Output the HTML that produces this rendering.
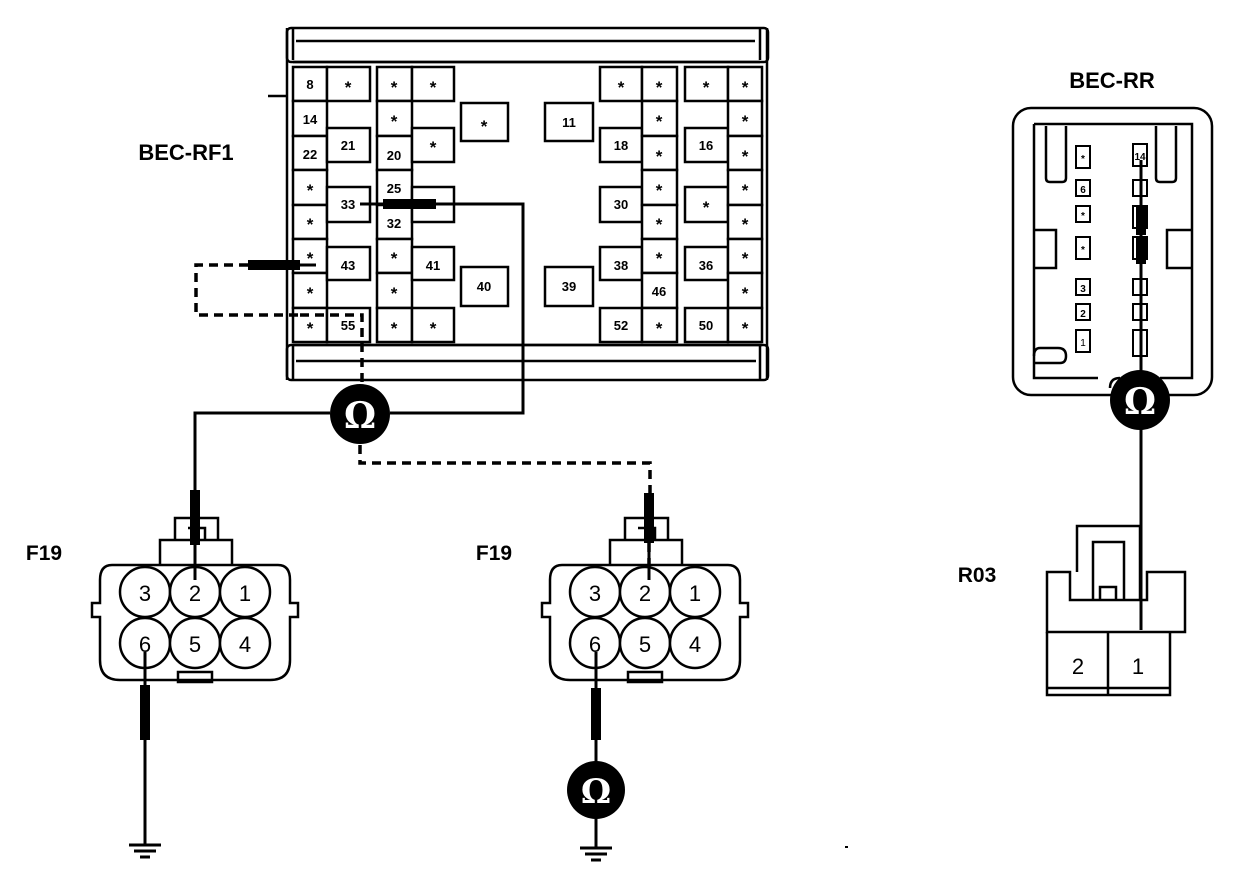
<!DOCTYPE html>
<html><head><meta charset="utf-8"><style>
html,body{margin:0;padding:0;background:#fff;}
svg{display:block}
text{font-family:"Liberation Sans",sans-serif;font-weight:bold;fill:#000;text-anchor:middle;}
.c{fill:#fff;stroke:#000;stroke-width:2.5}
.s{font-size:17px}
.n{font-size:13px}
.w{fill:none;stroke:#000;stroke-width:3}
.d{fill:none;stroke:#000;stroke-width:3.5;stroke-dasharray:9,6}
.l{fill:none;stroke:#000;stroke-width:2.5}
.o{fill:#fff;font-family:"DejaVu Serif","Liberation Serif",serif;font-weight:bold}
</style></head><body>
<svg width="1248" height="884" viewBox="0 0 1248 884" xmlns="http://www.w3.org/2000/svg">
<!-- frame -->
<path class="l" d="M287 28 V380 M293 28 V60 M293 62 H760 M296 41 H755 M760 28 V60 M767 28 V380 M293 345 H762 M296 361 H756 M293 345 V380 M760 345 V380 M268 96 H287"/>
<rect x="287" y="28" width="481" height="34" rx="4" class="l"/>
<rect x="287" y="345" width="481" height="35" rx="4" class="l"/>

<!-- col A full -->
<rect class="c" x="293" y="67" width="34" height="34"/><text class="n" x="310" y="89">8</text>
<rect class="c" x="293" y="101" width="34" height="35"/><text class="n" x="310" y="124">14</text>
<rect class="c" x="293" y="136" width="34" height="34"/><text class="n" x="310" y="159">22</text>
<rect class="c" x="293" y="170" width="34" height="35"/><text class="s" x="310" y="196">*</text>
<rect class="c" x="293" y="205" width="34" height="34"/><text class="s" x="310" y="230">*</text>
<rect class="c" x="293" y="239" width="34" height="34"/><text class="s" x="310" y="264">*</text>
<rect class="c" x="293" y="273" width="34" height="35"/><text class="s" x="310" y="299">*</text>
<rect class="c" x="293" y="308" width="34" height="34"/><text class="s" x="310" y="334">*</text>
<!-- col B -->
<rect class="c" x="327" y="67" width="43" height="34"/><text class="s" x="348" y="93">*</text>
<rect class="c" x="327" y="128" width="43" height="34"/><text class="n" x="348" y="150">21</text>
<rect class="c" x="327" y="187" width="43" height="35"/><text class="n" x="348" y="209">33</text>
<rect class="c" x="327" y="247" width="43" height="33"/><text class="n" x="348" y="270">43</text>
<rect class="c" x="327" y="308" width="43" height="34"/><text class="n" x="348" y="330">55</text>
<!-- col C full -->
<rect class="c" x="377" y="67" width="35" height="34"/><text class="s" x="394" y="93">*</text>
<rect class="c" x="377" y="101" width="35" height="35"/><text class="s" x="394" y="127">*</text>
<rect class="c" x="377" y="136" width="35" height="34"/><text class="n" x="394" y="160">20</text>
<rect class="c" x="377" y="170" width="35" height="35"/><text class="n" x="394" y="193">25</text>
<rect class="c" x="377" y="205" width="35" height="34"/><text class="n" x="394" y="228">32</text>
<rect class="c" x="377" y="239" width="35" height="34"/><text class="s" x="394" y="264">*</text>
<rect class="c" x="377" y="273" width="35" height="35"/><text class="s" x="394" y="299">*</text>
<rect class="c" x="377" y="308" width="35" height="34"/><text class="s" x="394" y="334">*</text>
<!-- col D -->
<rect class="c" x="412" y="67" width="42" height="34"/><text class="s" x="433" y="93">*</text>
<rect class="c" x="412" y="128" width="42" height="34"/><text class="s" x="433" y="153">*</text>
<rect class="c" x="412" y="187" width="42" height="35"/>
<rect class="c" x="412" y="247" width="42" height="33"/><text class="n" x="433" y="270">41</text>
<rect class="c" x="412" y="308" width="42" height="34"/><text class="s" x="433" y="334">*</text>
<!-- center -->
<rect class="c" x="461" y="103" width="47" height="38"/><text class="s" x="484" y="132">*</text>
<rect class="c" x="545" y="103" width="48" height="38"/><text class="n" x="569" y="127">11</text>
<rect class="c" x="461" y="267" width="47" height="39"/><text class="n" x="484" y="291">40</text>
<rect class="c" x="545" y="267" width="48" height="39"/><text class="n" x="569" y="291">39</text>
<!-- col E -->
<rect class="c" x="600" y="67" width="42" height="34"/><text class="s" x="621" y="93">*</text>
<rect class="c" x="600" y="128" width="42" height="34"/><text class="n" x="621" y="150">18</text>
<rect class="c" x="600" y="187" width="42" height="35"/><text class="n" x="621" y="209">30</text>
<rect class="c" x="600" y="247" width="42" height="33"/><text class="n" x="621" y="270">38</text>
<rect class="c" x="600" y="308" width="42" height="34"/><text class="n" x="621" y="330">52</text>
<!-- col F full -->
<rect class="c" x="642" y="67" width="35" height="34"/><text class="s" x="659" y="93">*</text>
<rect class="c" x="642" y="101" width="35" height="35"/><text class="s" x="659" y="127">*</text>
<rect class="c" x="642" y="136" width="35" height="34"/><text class="s" x="659" y="162">*</text>
<rect class="c" x="642" y="170" width="35" height="35"/><text class="s" x="659" y="196">*</text>
<rect class="c" x="642" y="205" width="35" height="34"/><text class="s" x="659" y="230">*</text>
<rect class="c" x="642" y="239" width="35" height="34"/><text class="s" x="659" y="264">*</text>
<rect class="c" x="642" y="273" width="35" height="35"/><text class="n" x="659" y="296">46</text>
<rect class="c" x="642" y="308" width="35" height="34"/><text class="s" x="659" y="334">*</text>
<!-- col G -->
<rect class="c" x="685" y="67" width="43" height="34"/><text class="s" x="706" y="93">*</text>
<rect class="c" x="685" y="128" width="43" height="34"/><text class="n" x="706" y="150">16</text>
<rect class="c" x="685" y="187" width="43" height="35"/><text class="s" x="706" y="213">*</text>
<rect class="c" x="685" y="247" width="43" height="33"/><text class="n" x="706" y="270">36</text>
<rect class="c" x="685" y="308" width="43" height="34"/><text class="n" x="706" y="330">50</text>
<!-- col H full -->
<rect class="c" x="728" y="67" width="34" height="34"/><text class="s" x="745" y="93">*</text>
<rect class="c" x="728" y="101" width="34" height="35"/><text class="s" x="745" y="127">*</text>
<rect class="c" x="728" y="136" width="34" height="34"/><text class="s" x="745" y="162">*</text>
<rect class="c" x="728" y="170" width="34" height="35"/><text class="s" x="745" y="196">*</text>
<rect class="c" x="728" y="205" width="34" height="34"/><text class="s" x="745" y="230">*</text>
<rect class="c" x="728" y="239" width="34" height="34"/><text class="s" x="745" y="264">*</text>
<rect class="c" x="728" y="273" width="34" height="35"/><text class="s" x="745" y="299">*</text>
<rect class="c" x="728" y="308" width="34" height="34"/><text class="s" x="745" y="334">*</text>

<text x="186" y="160" style="font-size:22px">BEC-RF1</text>
<text x="1112" y="88" style="font-size:22px">BEC-RR</text>
<text x="44" y="560" style="font-size:21px">F19</text>
<text x="494" y="560" style="font-size:21px">F19</text>
<text x="977" y="582" style="font-size:21px">R03</text>

<!-- solid wires -->
<path class="w" d="M360 204 H523 V413 H390 M330 413 H195 V545"/>
<rect x="383" y="199" width="53" height="10" fill="#000"/>
<rect x="190" y="490" width="10" height="55" fill="#000"/>
<path class="w" d="M195 545 V590"/>
<!-- dashed -->
<path class="d" d="M248 265 H196 V315 H300 M300 315 H362 V385"/>
<rect x="248" y="260" width="52" height="10" fill="#000"/>
<path class="w" d="M300 265 H316"/>
<path class="d" d="M360 445 V463 H650 V495"/>
<rect x="644" y="493" width="10" height="50" fill="#000"/>
<path class="d" d="M649 543 V590"/>

<!-- ohm 1 -->
<circle cx="360" cy="414" r="30" fill="#000"/>
<text class="o" x="360" y="428" style="font-size:36px">Ω</text>

<!-- F19 left -->
<g id="f19">
<path class="l" d="M160 565 V540 H232 V565 M175 540 V518 H218 V540 M188 528 H205 V540"/>
<path class="l" d="M112 565 H278 Q290 565 290 580 V603 H298 V617 H290 V660 Q290 680 270 680 H120 Q100 680 100 660 V617 H92 V603 H100 V580 Q100 565 112 565 Z"/>
<path class="l" d="M178 672 H212 V682 H178 Z"/>
<circle class="c" cx="145" cy="592" r="25"/><circle class="c" cx="195" cy="592" r="25"/><circle class="c" cx="245" cy="592" r="25"/>
<circle class="c" cx="145" cy="643" r="25"/><circle class="c" cx="195" cy="643" r="25"/><circle class="c" cx="245" cy="643" r="25"/>
<text x="145" y="601" style="font-size:22px;font-weight:normal">3</text>
<text x="195" y="601" style="font-size:22px;font-weight:normal">2</text>
<text x="245" y="601" style="font-size:22px;font-weight:normal">1</text>
<text x="145" y="652" style="font-size:22px;font-weight:normal">6</text>
<text x="195" y="652" style="font-size:22px;font-weight:normal">5</text>
<text x="245" y="652" style="font-size:22px;font-weight:normal">4</text>
</g>
<use href="#f19" x="450"/>
<path class="w" d="M195 545 V580"/>
<path class="w" d="M649 543 V580"/>

<!-- grounds -->
<path class="w" d="M145 652 V845"/>
<rect x="140" y="685" width="10" height="55" fill="#000"/>
<path class="w" d="M129 845 H161 M134 851 H156 M140 857 H150"/>
<path class="w" d="M596 652 V848"/>
<rect x="591" y="688" width="10" height="52" fill="#000"/>
<circle cx="596" cy="790" r="29" fill="#000"/>
<text class="o" x="596" y="803" style="font-size:34px">Ω</text>
<path class="w" d="M580 848 H612 M585 854 H607 M591 860 H601"/>

<!-- BEC-RR -->
<rect x="1013" y="108" width="199" height="287" rx="18" class="l"/>
<path class="l" d="M1034 124 H1192 V378 H1160 M1120 378 Q1110 378 1110 388 M1034 124 V378 H1098"/>
<path class="l" d="M1046 126 V178 Q1046 182 1050 182 H1062 Q1066 182 1066 178 V126 M1156 126 V178 Q1156 182 1160 182 H1172 Q1176 182 1176 178 V126"/>
<path class="l" d="M1034 230 H1056 V268 H1034 M1192 230 H1167 V268 H1192 M1034 363 H1060 Q1066 363 1066 356 Q1066 348 1058 348 H1040 Q1034 348 1034 356"/>
<g style="fill:#fff;stroke:#000;stroke-width:2">
<rect x="1076" y="146" width="14" height="22"/><rect x="1076" y="180" width="14" height="16"/>
<rect x="1076" y="206" width="14" height="16"/><rect x="1076" y="237" width="14" height="22"/>
<rect x="1076" y="279" width="14" height="16"/><rect x="1076" y="304" width="14" height="16"/>
<rect x="1076" y="330" width="14" height="22"/>
<rect x="1133" y="144" width="14" height="22"/><rect x="1133" y="180" width="14" height="16"/>
<rect x="1133" y="206" width="14" height="22"/><rect x="1133" y="237" width="14" height="22"/>
<rect x="1133" y="279" width="14" height="16"/><rect x="1133" y="304" width="14" height="16"/>
<rect x="1133" y="330" width="14" height="26"/>
</g>
<text x="1083" y="162" style="font-size:10px">*</text><text x="1083" y="193" style="font-size:10px">6</text>
<text x="1083" y="219" style="font-size:10px">*</text><text x="1083" y="253" style="font-size:10px">*</text>
<text x="1083" y="292" style="font-size:10px">3</text><text x="1083" y="317" style="font-size:10px">2</text>
<text x="1083" y="346" style="font-size:10px;font-weight:normal">1</text>
<text x="1140" y="160" style="font-size:10px">14</text>
<path class="w" d="M1141 160 V630"/>
<rect x="1136" y="205" width="10" height="30" fill="#000"/>
<rect x="1136" y="237" width="10" height="27" fill="#000"/>
<circle cx="1140" cy="400" r="30" fill="#000"/>
<text class="o" x="1140" y="414" style="font-size:36px">Ω</text>

<!-- R03 -->
<path class="l" d="M1077 572 V526 H1140 M1140 526 V600 M1093 600 V542 H1124 V600 M1100 600 V587 H1116 V600 M1047 572 H1070 V600 H1147 V572 H1185 V632 H1047 Z"/>
<path class="l" d="M1047 632 V695 H1170 V632 M1108 632 V695 M1047 688 H1170"/>
<text x="1078" y="674" style="font-size:22px;font-weight:normal">2</text>
<text x="1138" y="674" style="font-size:22px;font-weight:normal">1</text>
<rect x="845" y="846" width="3" height="2" fill="#000"/>
</svg>
</body></html>
